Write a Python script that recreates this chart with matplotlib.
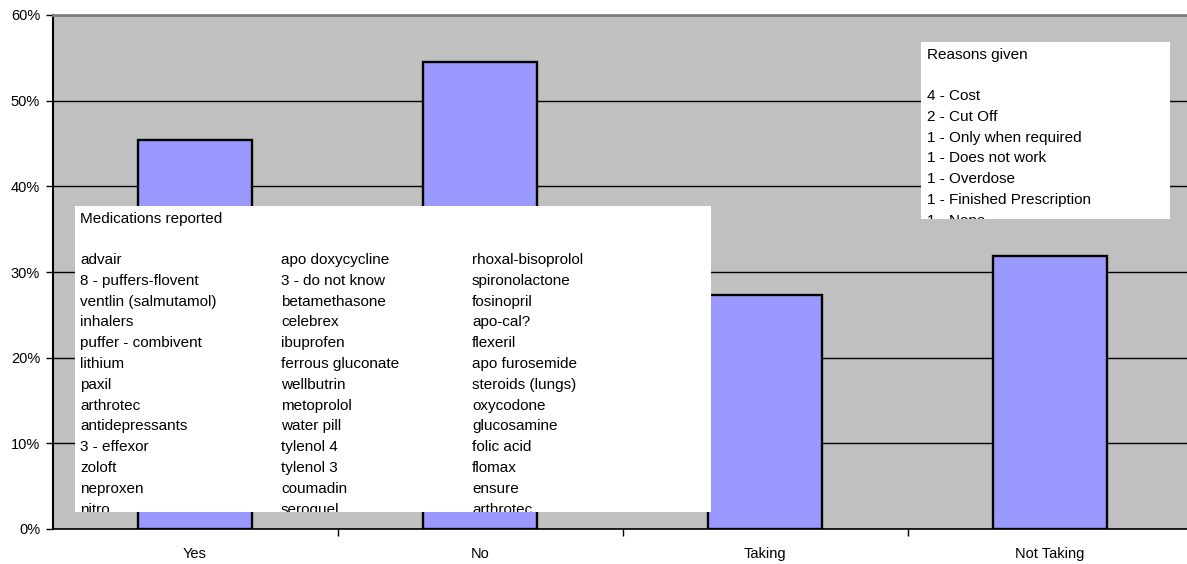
import matplotlib
matplotlib.use("Agg")
import matplotlib.pyplot as plt
from matplotlib.patches import Rectangle
from matplotlib.ticker import FixedLocator, PercentFormatter

plt.rcParams["font.family"] = ["Liberation Sans", "DejaVu Sans"]

categories = ["Yes", "No", "Taking", "Not Taking"]
shares = [45.45, 54.55, 27.27, 31.82]

meds_col1 = ["advair", "8 - puffers-flovent", "ventlin (salmutamol)", "inhalers",
             "puffer - combivent", "lithium", "paxil", "arthrotec", "antidepressants",
             "3 - effexor", "zoloft", "neproxen", "nitro"]
meds_col2 = ["apo doxycycline", "3 - do not know", "betamethasone", "celebrex",
             "ibuprofen", "ferrous gluconate", "wellbutrin", "metoprolol", "water pill",
             "tylenol 4", "tylenol 3", "coumadin", "seroquel"]
meds_col3 = ["rhoxal-bisoprolol", "spironolactone", "fosinopril", "apo-cal?", "flexeril",
             "apo furosemide", "steroids (lungs)", "oxycodone", "glucosamine", "folic acid",
             "flomax", "ensure", "arthrotec"]
reasons = ["4 - Cost", "2 - Cut Off", "1 - Only when required", "1 - Does not work",
           "1 - Overdose", "1 - Finished Prescription", "1 - None"]

W, H = 1187, 564
fig = plt.figure(figsize=(W / 100, H / 100), dpi=100)


def fx(px):
    return px / W


def fy(py):
    # pixel rows counted from the top
    return 1 - py / H


# plot area runs slightly past the right edge of the canvas
left, right, top, bottom = 52.5, 1192.5, 15, 529
ax = fig.add_axes([fx(left), fy(bottom), fx(right - left), (bottom - top) / H])
ax.set_facecolor("#C0C0C0")

x = range(len(categories))
ax.bar(x, shares, width=0.4, color="#9999FF", edgecolor="black", linewidth=1.7, zorder=3)

ax.set_xlim(-0.5, len(categories) - 0.5)
ax.set_ylim(0, 60)
ax.set_yticks(range(0, 61, 10))
ax.yaxis.set_major_formatter(PercentFormatter(decimals=0))
ax.grid(axis="y", color="black", linewidth=1, zorder=1)

ax.set_xticks(list(x))
ax.set_xticklabels(categories)
ax.xaxis.set_minor_locator(FixedLocator([0.5, 1.5, 2.5]))
ax.tick_params(axis="x", which="major", length=0, pad=13, labelsize=10.5)
ax.tick_params(axis="x", which="minor", length=5, width=1, color="black", direction="out")
ax.tick_params(axis="y", length=5, width=1, color="black", direction="out", pad=4, labelsize=10.5)

ax.spines["left"].set_color("black")
ax.spines["left"].set_linewidth(1.5)
ax.spines["bottom"].set_color("black")
ax.spines["bottom"].set_linewidth(1.2)
ax.spines["top"].set_color("#808080")
ax.spines["top"].set_linewidth(2)
ax.spines["right"].set_visible(False)


def text_box(x0, y0, x1, y1):
    box = Rectangle((fx(x0), fy(y1)), fx(x1 - x0), (y1 - y0) / H,
                    transform=fig.transFigure, facecolor="white", edgecolor="none", zorder=5)
    fig.add_artist(box)
    return box


def box_text(box, px, py, s):
    t = fig.text(fx(px), fy(py), s, fontsize=11, va="center", ha="left", zorder=6)
    t.set_clip_path(box)
    return t


# medications list
med_box = text_box(75, 206, 711, 512)
box_text(med_box, 80, 219, "Medications reported")
step = 20.8
for col_x, col in zip([80, 281, 472], [meds_col1, meds_col2, meds_col3]):
    for i, name in enumerate(col):
        box_text(med_box, col_x, 260 + i * step, name)

# reasons for not taking
why_box = text_box(921, 42, 1170, 219)
box_text(why_box, 927, 55, "Reasons given")
for i, r in enumerate(reasons):
    box_text(why_box, 927, 96 + i * step, r)

fig.savefig("out.png", dpi=100)
